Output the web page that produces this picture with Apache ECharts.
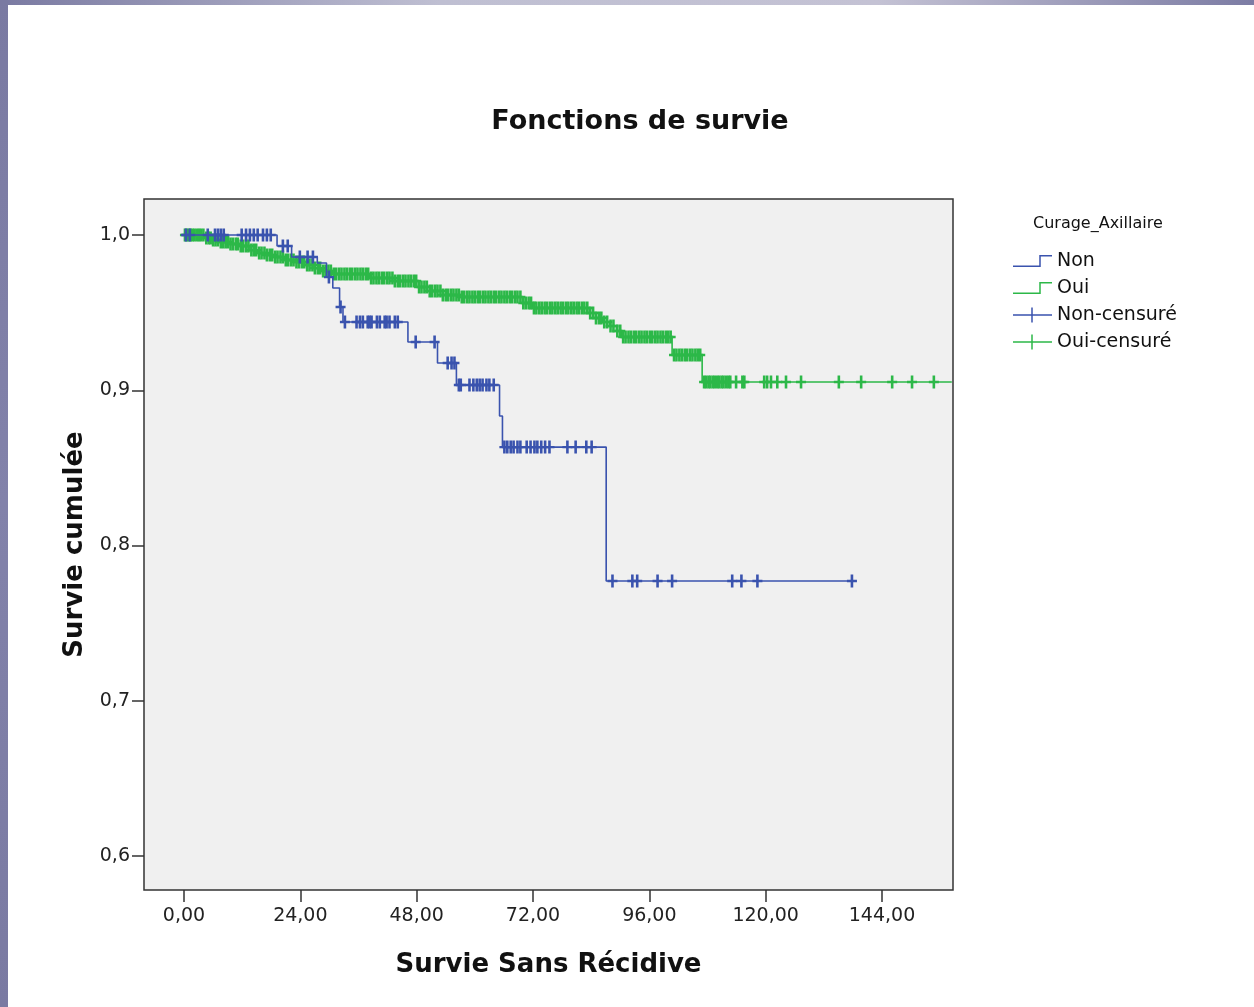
<!DOCTYPE html>
<html>
<head>
<meta charset="utf-8">
<title>Fonctions de survie</title>
<script src="https://cdn.jsdelivr.net/npm/echarts@6/dist/echarts.min.js"></script>
<style>
  html, body { margin: 0; padding: 0; background: #fff; }
  #frame_top { position: absolute; left: 0; top: 0; width: 1254px; height: 5px;
    background: linear-gradient(to right, #7a7aa2, #bfbfd2 35%, #c4c2d4 70%, #7c7ca4); }
  #frame_left { position: absolute; left: 0; top: 0; width: 8px; height: 1007px;
    background: linear-gradient(to bottom, #7a7aa2, #8282aa 50%, #7a7aa2); }
  #survie_chart { position: absolute; left: 0; top: 0; width: 1254px; height: 1007px; }
</style>
</head>
<body>
<div id="frame_top"></div>
<div id="frame_left"></div>
<div id="survie_chart"></div>
<script>
// axes
const xTicks = [0, 24, 48, 72, 96, 120, 144];
const yTicks = [0.6, 0.7, 0.8, 0.9, 1.0];

// Curage_Axillaire = Non : steps [temps, survie]
const nonSteps = [
  [0, 1.0],
  [19.2, 0.9929],
  [22.2, 0.9858],
  [27.5, 0.982],
  [29.4, 0.9729],
  [30.7, 0.9659],
  [32.1, 0.9536],
  [32.8, 0.944],
  [46.2, 0.9311],
  [52.3, 0.9176],
  [56.2, 0.9034],
  [65.1, 0.8834],
  [65.7, 0.8634],
  [87.1, 0.7771],
];
const nonEnd = 137.8;
// censures (temps)
const nonCensored = [
  0.4, 1.2, 4.9, 6.4, 7.0, 7.6, 8.2, 11.9, 12.8, 13.6, 14.4, 15.2, 16.3, 17.1, 17.9,
  20.4, 21.4, 23.9, 25.5, 26.6, 29.9, 32.3,
  33.2, 35.6, 36.3, 36.9, 37.9, 38.3, 38.7, 39.8, 40.4, 41.4, 41.8, 42.4, 43.5, 44.1,
  47.8, 51.7, 54.4, 55.2, 55.8,
  56.7, 57.1, 58.9, 59.7, 60.4, 61.0, 61.6, 62.4, 63.0, 63.9,
  66.1, 66.7, 67.4, 68.0, 68.8, 69.4, 70.7, 71.5, 72.3, 72.9, 73.7, 74.5, 75.4, 79.1, 80.8, 83.0, 84.1,
  88.4, 92.5, 93.5, 97.7, 100.7, 113.1, 115.0, 118.3, 137.8,
];

// Curage_Axillaire = Oui
const ouiSteps = [
  [0, 1.0],
  [4.3, 0.9981],
  [5.8, 0.9968],
  [7.4, 0.9955],
  [9.5, 0.9942],
  [11.5, 0.9929],
  [13.6, 0.9903],
  [15.2, 0.9884],
  [16.9, 0.9871],
  [18.7, 0.9858],
  [20.8, 0.9839],
  [22.9, 0.9826],
  [24.9, 0.9807],
  [26.6, 0.9787],
  [28.4, 0.9768],
  [30.7, 0.9749],
  [38.3, 0.9723],
  [43.5, 0.9704],
  [48.0, 0.9665],
  [50.7, 0.9639],
  [53.4, 0.9614],
  [56.9, 0.9601],
  [69.8, 0.9562],
  [71.9, 0.953],
  [83.6, 0.9498],
  [84.9, 0.9465],
  [86.3, 0.944],
  [87.8, 0.9414],
  [89.2, 0.9382],
  [90.2, 0.9343],
  [100.7, 0.9227],
  [106.9, 0.9053],
];
const ouiEnd = 158.4;
const ouiCensored = [
  0.2, 0.6, 1.0, 1.4, 1.8, 2.2, 2.7, 3.1, 3.5, 4.0, 4.6, 5.1, 5.5, 6.0, 6.5, 7.0, 7.6, 8.1,
  8.6, 9.1, 9.6, 10.1, 10.7, 11.1, 11.7, 12.2, 12.8, 13.3, 13.9, 14.4, 14.9, 15.5, 16.0, 16.6,
  17.1, 17.7, 18.2, 18.8, 19.3, 19.9, 20.4, 21.0, 21.5, 22.1, 22.6, 23.2, 23.7, 24.3, 24.8, 25.4,
  25.9, 26.5, 27.0, 27.6, 28.1, 28.7, 29.2, 29.8, 30.3, 30.9, 31.4, 32.0, 32.5, 33.1, 33.6, 34.2,
  34.7, 35.3, 35.8, 36.4, 36.9, 37.5, 38.0, 38.6, 39.1, 39.7, 40.2, 40.8, 41.3, 41.9, 42.4, 43.0,
  43.5, 44.1, 44.6, 45.2, 45.7, 46.3, 46.8, 47.4, 47.9, 48.5, 49.0, 49.6, 50.1, 50.7, 51.2, 51.8,
  52.3, 52.9, 53.4, 54.0, 54.5, 55.1, 55.6, 56.2, 56.7, 57.3, 57.8, 58.4, 58.9, 59.5, 60.0, 60.6,
  61.1, 61.7, 62.2, 62.8, 63.3, 63.9, 64.4, 65.0, 65.5, 66.1, 66.6, 67.2, 67.7, 68.3, 68.8, 69.4,
  70.0, 70.5, 71.1, 71.6, 72.2, 72.7, 73.3, 73.8, 74.4, 74.9, 75.5, 76.0, 76.6, 77.1, 77.7, 78.2,
  78.8, 79.3, 79.9, 80.4, 81.0, 81.5, 82.1, 82.6, 83.2, 83.8, 84.4, 85.0, 85.6, 86.1, 86.7, 87.3,
  88.0, 88.6, 89.4, 90.0, 90.6, 91.1, 91.7, 92.2, 92.8, 93.3, 93.9, 94.4, 95.0, 95.5, 96.1, 96.6,
  97.2, 97.7, 98.3, 98.8, 99.4, 99.9, 100.4, 101.1, 101.6, 102.2, 102.7, 103.3, 103.8, 104.4,
  104.9, 105.5, 106.0, 106.5,
  107.3, 107.7, 108.2, 108.6, 109.1, 109.5, 110.0, 110.4, 110.9, 111.3, 111.8, 112.3, 112.7,
  113.9, 115.2, 115.6, 119.7, 120.3, 121.1, 122.4, 124.2, 127.3, 135.1, 139.7, 146.1, 150.2, 154.7,
];

const BLUE = "#3a53ae";
const GREEN = "#2cb848";

// survie a l'instant t (lecture sur la courbe en escalier)
function levelAt(steps, t) {
  let s = steps[0][1];
  steps.forEach((it) => {
    if (it[0] <= t) s = it[1];
  });
  return s;
}

const PLUS = "path://M3.7,0 L6.3,0 L6.3,5.3 L10,5.3 L10,7.7 L6.3,7.7 L6.3,13 L3.7,13 L3.7,7.7 L0,7.7 L0,5.3 L3.7,5.3 Z";
const STEP_ICON = "path://M0,10.5 L26.25,10.5 L26.25,0 L39,0 L39,1.5 L27.75,1.5 L27.75,12 L0,12 Z";
const CENS_ICON = "path://M18.25,0 L19.75,0 L19.75,6.75 L39,6.75 L39,8.25 L19.75,8.25 L19.75,15 L18.25,15 L18.25,8.25 L0,8.25 L0,6.75 L18.25,6.75 Z";

let myCharts = echarts.init(document.getElementById("survie_chart"));

let option = {
  animation: false,
  title: [
    {
      text: "Fonctions de survie",
      left: 635,
      textAlign: "center",
      top: 103,
      textStyle: { fontFamily: "DejaVu Sans", fontSize: 27, fontWeight: "bold", color: "#111" },
    },
    {
      text: "Curage_Axillaire",
      left: 1033,
      top: 216,
      padding: 0,
      textStyle: { fontFamily: "DejaVu Sans", fontSize: 16, fontWeight: "normal", color: "#111" },
    },
  ],
  legend: {
    orient: "vertical",
    left: 1013,
    top: 251,
    padding: 0,
    itemWidth: 39,
    itemHeight: 16,
    itemGap: 7,
    selectedMode: false,
    itemStyle: { borderWidth: 0, opacity: 1 },
    textStyle: { fontFamily: "DejaVu Sans", fontSize: 19, color: "#111", lineHeight: 20, padding: [0, 0, 0, 0] },
    data: [
      { name: "Non", icon: STEP_ICON },
      { name: "Oui", icon: STEP_ICON },
      { name: "Non-censuré", icon: CENS_ICON },
      { name: "Oui-censuré", icon: CENS_ICON },
    ],
  },
  grid: {
    left: 144,
    top: 199,
    width: 809,
    height: 691,
    show: true,
    backgroundColor: "#f0f0f0",
    borderColor: "#333",
    borderWidth: 1.5,
  },
  xAxis: {
    type: "value",
    min: -8.25,
    max: 158.65,
    name: "Survie Sans Récidive",
    nameLocation: "middle",
    nameGap: 62,
    nameTextStyle: { fontFamily: "DejaVu Sans", fontSize: 26, fontWeight: "bold", color: "#111" },
    axisLine: { show: false, onZero: false },
    splitLine: { show: false },
    axisTick: { show: true, length: 12, customValues: xTicks, lineStyle: { color: "#333", width: 1.5 } },
    axisLabel: {
      customValues: xTicks,
      margin: 17,
      fontFamily: "DejaVu Sans",
      fontSize: 19,
      color: "#222",
      formatter: (v) => v.toFixed(2).replace(".", ","),
    },
  },
  yAxis: {
    type: "value",
    min: 0.5781,
    max: 1.0232,
    name: "Survie cumulée",
    nameLocation: "middle",
    nameGap: 56,
    nameTextStyle: { fontFamily: "DejaVu Sans", fontSize: 26, fontWeight: "bold", color: "#111" },
    axisLine: { show: false, onZero: false },
    splitLine: { show: false },
    axisTick: { show: true, length: 12, customValues: yTicks, lineStyle: { color: "#333", width: 1.5 } },
    axisLabel: {
      customValues: yTicks,
      margin: 14,
      fontFamily: "DejaVu Sans",
      fontSize: 19,
      color: "#222",
      formatter: (v) => v.toFixed(1).replace(".", ","),
    },
  },
  series: [
    {
      name: "Non",
      type: "line",
      step: "end",
      symbol: "none",
      color: BLUE,
      lineStyle: { width: 1.6, color: BLUE },
      data: nonSteps.concat([[nonEnd, nonSteps[nonSteps.length - 1][1]]]),
      z: 4,
    },
    {
      name: "Oui",
      type: "line",
      step: "end",
      symbol: "none",
      color: GREEN,
      lineStyle: { width: 1.6, color: GREEN },
      data: ouiSteps.concat([[ouiEnd, ouiSteps[ouiSteps.length - 1][1]]]),
      z: 2,
    },
    {
      name: "Non-censuré",
      type: "scatter",
      symbol: PLUS,
      symbolSize: [10, 13],
      symbolKeepAspect: false,
      color: BLUE,
      itemStyle: { opacity: 1 },
      data: nonCensored.map((t) => [t, levelAt(nonSteps, t)]),
      z: 5,
    },
    {
      name: "Oui-censuré",
      type: "scatter",
      symbol: PLUS,
      symbolSize: [10, 13],
      symbolKeepAspect: false,
      color: GREEN,
      itemStyle: { opacity: 1 },
      data: ouiCensored.map((t) => [t, levelAt(ouiSteps, t)]),
      z: 3,
    },
  ],
};

myCharts.setOption(option);
</script>
</body>
</html>
